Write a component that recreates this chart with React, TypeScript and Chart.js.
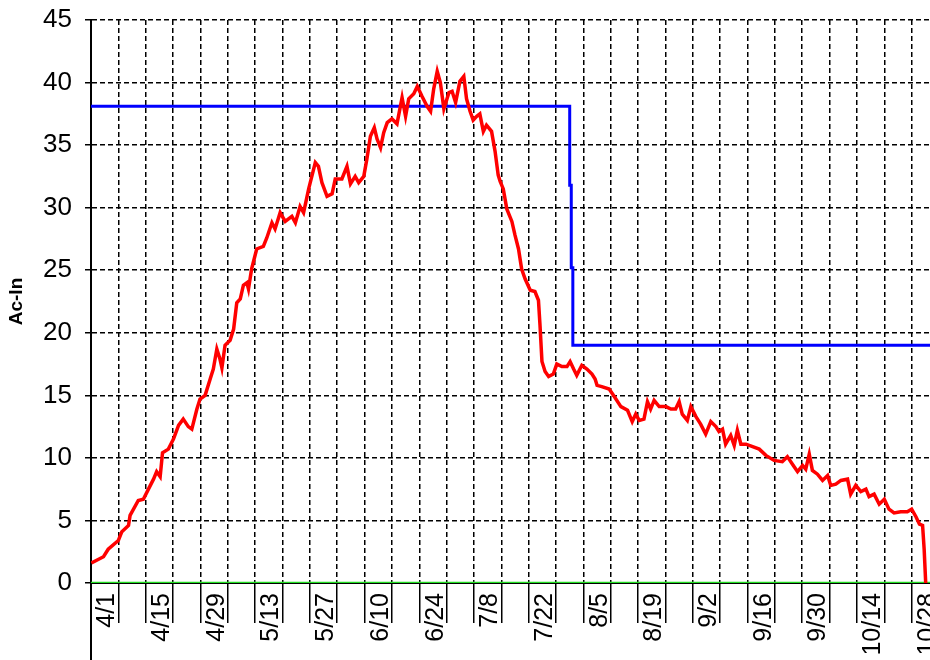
import React, { useEffect, useRef } from 'react';
import { Chart, registerables } from 'chart.js';

Chart.register(...registerables);

// X axis: days counted from 4/1 (day 0); ticks every 7 days, labels every 14 days
const tickLabels = ['4/1', '4/15', '4/29', '5/13', '5/27', '6/10', '6/24', '7/8', '7/22', '8/5', '8/19', '9/2', '9/16', '9/30', '10/14', '10/28'];
const xMinDay = -7;
const xMaxDay = 210;
const yTickValues = [0, 5, 10, 15, 20, 25, 30, 35, 40, 45];

// Red series (Ac-In): day offset and value
const redDay = [
  -6.9, -3.8, -2.6, 0, 0.9, 2.6, 3.0, 5.1, 6.4, 7.7, 9.0, 9.8, 10.7, 11.3, 12.8, 14.1, 15.4, 16.6, 17.9, 18.8,
  20.1, 20.9, 22.2, 23.5, 24.3, 25.2, 26.0, 26.5, 27.3, 28.6, 29.5, 30.3, 31.2, 32.0, 32.9, 33.3, 34.1,
  35.4, 37.1, 38, 39.3, 40.1, 41.4, 42.7, 44.4, 45.3, 46.5, 47.4, 48.7, 50.4, 51.2, 52.1, 53.4, 54.7, 55.5,
  57.2, 58.5, 59.4, 60.6, 61.5, 62.8, 63.6, 64.5, 65.5, 66.2, 67.1, 67.9, 68.8, 70, 71.3, 72.6, 73.5, 74.3,
  75.6, 76.5, 77.7, 79.0, 79.9, 80.7, 81.6, 82.4, 83.3, 84.6, 85.4, 86.3, 87.4, 88.4,
  89.1, 90, 90.8, 91.7, 92.5, 93.4, 94.2, 95.5, 96.4, 97.2, 97.7, 98.5, 99.4, 100.7, 101.5, 102.4, 103.2,
  104.1, 105.4, 106.6, 107.5, 107.9, 108.4, 109.2, 110.1, 111.3, 112.2, 113.5, 114.8, 115.6, 116.5, 117.3,
  118.6, 119.9, 121.2, 122.0, 122.5, 123.7, 125.6,
  126.9, 128.6, 130.3, 131.5, 132.4, 133.3, 134.5, 135.4, 136.2, 137.1, 138.4, 140.1, 141.4, 142.6, 143.5,
  144.3, 145.6, 146.5, 147.8, 149, 150.3, 151.6, 152.9, 153.7, 154.6, 155.4, 156.7, 157.6, 158.4, 159.3,
  160.6, 162.3, 164, 165.7, 167.8, 169.9, 171.2, 172.5, 173.8, 175.1, 175.9, 176.8, 177.6, 178.9, 180.2,
  181.5, 182.3, 183.6, 184.9, 186.6, 187.4, 188.7, 190, 191.3, 192.1, 193.4, 194.7, 196, 197.2, 198.5,
  200.2, 201.9, 203, 204.1, 205, 205.8, 206.2, 206.6,
];
const redAc = [
  1.6, 2.1, 2.7, 3.4, 4.1, 4.6, 5.4, 6.6, 6.7, 7.5, 8.3, 8.9, 8.5, 10.4, 10.7, 11.5, 12.6, 13.1, 12.5, 12.3,
  13.9, 14.7, 15.0, 16.3, 17.1, 18.7, 17.9, 17.2, 19.0, 19.4, 20.3, 22.4, 22.7, 23.8, 24.0, 23.5, 25.1,
  26.7, 26.9, 27.6, 28.8, 28.3, 29.6, 28.9, 29.3, 28.8, 30.1, 29.6, 31.5, 33.6, 33.3, 32.0, 30.9, 31.1, 32.3,
  32.3, 33.3, 31.9, 32.5, 32.0, 32.5, 33.9, 35.7, 36.4, 35.5, 34.8, 36.0, 36.8, 37.1, 36.7, 38.8, 37.3, 38.7,
  39.1, 39.7, 38.9, 38.1, 37.7, 39.5, 40.9, 40.0, 37.9, 39.2, 39.3, 38.4, 40.1, 40.5,
  38.7, 37.7, 37.0, 37.3, 37.5, 36.1, 36.6, 36.1, 34.5, 32.6, 32.1, 31.5, 29.9, 28.9, 27.8, 26.7, 25.1,
  24.3, 23.4, 23.3, 22.6, 20.6, 17.7, 16.9, 16.5, 16.7, 17.5, 17.3, 17.3, 17.7, 17.1, 16.6,
  17.4, 17.1, 16.7, 16.3, 15.8, 15.7, 15.5,
  14.9, 14.1, 13.8, 12.9, 13.5, 13.0, 13.1, 14.5, 13.9, 14.6, 14.1, 14.1, 13.9, 13.9, 14.5,
  13.5, 13.0, 14.1, 13.3, 12.7, 11.9, 12.9, 12.5, 12.1, 12.3, 11.1, 11.8, 11.0, 12.2, 11.1,
  11.1, 10.9, 10.7, 10.2, 9.8, 9.7, 10.1, 9.5, 8.9, 9.4, 9.1, 10.3, 9.0, 8.7, 8.2,
  8.6, 7.8, 7.9, 8.2, 8.3, 7.1, 7.8, 7.3, 7.5, 6.9, 7.1, 6.3, 6.7, 5.9, 5.6,
  5.7, 5.7, 5.9, 5.3, 4.7, 4.6, 2.7, 0,
];

// Blue step series
const blueDay = [-7, 115.5, 115.5, 115.9, 115.9, 116.3, 116.3, 214];
const blueAc = [38.1, 38.1, 31.8, 31.8, 25.2, 25.2, 19.0, 19.0];

// Green zero line
const greenDay = [-7, 214];
const greenAc = [0, 0];

const toPoints = (xs: number[], ys: number[]) => xs.map((x, i) => ({ x, y: ys[i] }));

const axisExtend = {
  id: 'axisExtend',
  afterDraw(chart: any) {
    const { ctx, chartArea } = chart;
    ctx.save();
    ctx.strokeStyle = '#000';
    ctx.lineWidth = 2;
    ctx.beginPath();
    ctx.moveTo(chartArea.left, chartArea.bottom);
    ctx.lineTo(chartArea.left, chart.height);
    ctx.stroke();
    ctx.restore();
  },
};

export default function App() {
  const ref = useRef<HTMLCanvasElement>(null);

  useEffect(() => {
    const canvas = ref.current;
    if (!canvas) return;
    Chart.defaults.font.family = '"Liberation Sans", Arial, sans-serif';
    const chart = new Chart(canvas, {
      type: 'line',
      data: {
        datasets: [
          {
            data: toPoints(redDay, redAc),
            borderColor: '#ff0000',
            borderWidth: 3.5,
            pointRadius: 0,
            tension: 0,
          },
          {
            data: toPoints(blueDay, blueAc),
            borderColor: '#0000ff',
            borderWidth: 3,
            pointRadius: 0,
            tension: 0,
          },
          {
            data: toPoints(greenDay, greenAc),
            borderColor: '#22dd22',
            borderWidth: 2.5,
            pointRadius: 0,
            tension: 0,
          },
        ],
      },
      options: {
        animation: false,
        responsive: false,
        devicePixelRatio: 1,
        layout: { padding: { top: 20, right: 21, left: 0, bottom: 0 } },
        plugins: { legend: { display: false }, tooltip: { enabled: false } },
        scales: {
          x: {
            type: 'linear',
            min: xMinDay,
            max: xMaxDay,
            afterFit: (s: any) => {
              s.height = 77;
              s.paddingLeft = 0;
              s.paddingRight = 0;
              s.paddingTop = 0;
              s.paddingBottom = 0;
            },
            grid: {
              color: '#000',
              lineWidth: 1.5,
              tickLength: 40,
              tickColor: '#000',
              tickWidth: 1.5,
              tickBorderDash: [],
            },
            border: { dash: [5, 3], color: '#000', width: 2 },
            ticks: {
              stepSize: 7,
              autoSkip: false,
              maxRotation: 90,
              minRotation: 90,
              padding: -30,
              labelOffset: -11,
              color: '#000',
              font: { size: 25 },
              callback: (value: any) => {
                const v = Math.round(Number(value));
                if (v >= 0 && v % 14 === 0) return tickLabels[v / 14] ?? '';
                return '';
              },
            },
          },
          y: {
            min: 0,
            max: 45,
            afterFit: (s: any) => {
              s.width = 91;
              s.paddingLeft = 0;
              s.paddingRight = 0;
              s.paddingTop = 0;
              s.paddingBottom = 0;
            },
            afterBuildTicks: (s: any) => {
              s.ticks = yTickValues.map((v) => ({ value: v }));
            },
            grid: {
              color: '#000',
              lineWidth: 1.5,
              tickLength: 6,
              tickColor: '#000',
              tickWidth: 1.5,
              tickBorderDash: [],
            },
            border: { dash: [5, 3], color: '#000', width: 2 },
            ticks: {
              padding: 13,
              color: '#000',
              font: { size: 26 },
            },
            title: {
              display: true,
              text: 'Ac-In',
              color: '#000',
              font: { size: 19, weight: 'bold' },
              padding: { top: 5, bottom: 0 },
            },
          },
        },
      },
      plugins: [axisExtend],
    } as any);
    return () => chart.destroy();
  }, []);

  return (
    <div
      style={{
        position: 'fixed',
        left: 0,
        top: 0,
        width: 930,
        height: 660,
        overflow: 'hidden',
        background: '#fff',
      }}
    >
      <canvas ref={ref} width={960} height={660} style={{ display: 'block', width: 960, height: 660 }} />
    </div>
  );
}
